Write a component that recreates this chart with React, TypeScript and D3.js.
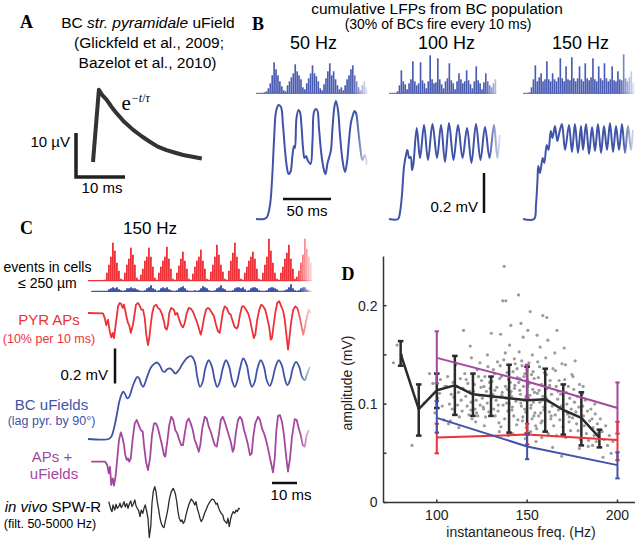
import React from "react";
import * as d3 from "d3";

const SANS = "'Liberation Sans', Arial, Helvetica, sans-serif";
const SERIF = "'Liberation Serif', 'Times New Roman', serif";

const BLUE = "#3f53a8";
const BLUE_H = "#4a5cb2";
const RED = "#ec3238";
const PURPLE = "#a5479f";
const BLACK = "#2b2b2b";
const GRAY = "#9b9b9b";

type P = [number, number];

// ---------- Panel A : single uField (t ms, µV)
const uFieldTrace: P[] = [[0, 0], [1.2, 16.4], [1.9, 15.2], [2.8, 14.1], [3.8, 12.5], [4.8, 11.1], [6.3, 9.2], [8.2, 7.3], [10, 5.8], [11.6, 4.6], [13.2, 3.5], [15, 2.7], [16.8, 2.1], [18.4, 1.6], [20.3, 1.2], [22.2, 0.8]];

// ---------- Panel B : cumulative LFPs (t ms, mV) and event histograms (2 ms bins)
const freqLabelsB = ["50 Hz", "100 Hz", "150 Hz"];
const histB50 = [0, 0, 0, 0, 1, 2, 5, 10, 18, 31, 24, 18, 12, 7, 3, 2, 8, 12, 16, 20, 29, 22, 18, 14, 6, 4, 10, 15, 20, 28, 20, 17, 12, 5, 3, 9, 15, 22, 30, 18, 22, 14, 8, 4, 6, 3, 8, 14, 18, 24, 28, 18, 12, 6, 3, 8, 12, 6];
const histB100 = [0, 0, 0, 0, 2, 8, 23, 12, 9, 4, 10, 14, 32, 12, 8, 10, 31, 13, 10, 5, 12, 38, 14, 10, 11, 35, 14, 9, 5, 12, 15, 30, 13, 10, 4, 12, 20, 14, 10, 12, 23, 13, 9, 5, 12, 27, 13, 10, 4, 11, 20, 12, 8, 6, 10, 14];
const histB150 = [0, 0, 0, 1, 6, 14, 28, 12, 16, 20, 12, 14, 32, 14, 12, 20, 14, 12, 16, 35, 15, 12, 27, 14, 13, 36, 15, 12, 15, 27, 14, 12, 30, 15, 13, 16, 35, 14, 12, 27, 15, 13, 30, 15, 12, 14, 27, 13, 12, 22, 14, 13, 39, 15, 12, 16, 22, 10];
const traceB50: P[] = [[0, 0], [8.3, 0], [11.5, 0.01], [14.6, 0.07], [16.7, 0.195], [18.8, 0.395], [20.8, 0.535], [23.4, 0.57], [26, 0.56], [28.1, 0.47], [30.2, 0.345], [32.3, 0.255], [33.9, 0.225], [35.9, 0.235], [38, 0.32], [39.6, 0.365], [40.6, 0.355], [42.2, 0.505], [44.3, 0.545], [45.8, 0.535], [47.4, 0.465], [49, 0.355], [50.5, 0.305], [52.1, 0.315], [54.2, 0.29], [56.8, 0.275], [58.9, 0.395], [60.4, 0.535], [62.5, 0.55], [64.1, 0.54], [65.6, 0.455], [68.2, 0.32], [70.8, 0.245], [72.4, 0.225], [74.5, 0.28], [76.6, 0.315], [78.1, 0.345], [79.7, 0.455], [81.8, 0.565], [83.3, 0.59], [85.4, 0.545], [87.5, 0.42], [90.1, 0.295], [92.7, 0.235], [94.8, 0.285], [96.9, 0.395], [99, 0.485], [101, 0.52], [102.6, 0.54], [104.2, 0.53], [106.3, 0.455], [108.3, 0.37], [110.9, 0.295], [113.5, 0.32], [115.6, 0.27]];
const traceB100: P[] = [[0, 0], [9.4, 0], [11.5, 0.035], [13.5, 0.12], [15.6, 0.26], [17.7, 0.32], [19.1, 0.345], [21.1, 0.305], [22.6, 0.31], [24, 0.245], [25.3, 0.27], [28.9, 0.455], [32.3, 0.305], [36.5, 0.47], [40.6, 0.295], [45.3, 0.475], [50, 0.305], [54.2, 0.47], [58.3, 0.285], [62.5, 0.48], [67.2, 0.295], [71.9, 0.47], [76.6, 0.305], [81.3, 0.455], [85.9, 0.28], [90.6, 0.475], [95.3, 0.295], [100, 0.46], [104.7, 0.305], [109.4, 0.47], [113, 0.305], [115.6, 0.42]];
const traceB150: P[] = [[0, 0], [11.5, 0], [13.5, 0.07], [15.1, 0.195], [15.9, 0.265], [17.7, 0.23], [20.5, 0.305], [22.2, 0.28], [24.7, 0.37], [26.6, 0.345], [28.9, 0.44], [30.7, 0.405], [33.3, 0.465], [35.7, 0.39], [38, 0.435], [40.6, 0.475], [43.8, 0.345], [47.9, 0.47], [51, 0.335], [54.1, 0.475], [57.3, 0.33], [60.4, 0.465], [62.5, 0.345], [65.6, 0.475], [68.8, 0.325], [71.9, 0.46], [75, 0.34], [78.1, 0.475], [81.3, 0.33], [84.4, 0.465], [87.5, 0.345], [90.6, 0.48], [93.8, 0.335], [96.9, 0.465], [100, 0.345], [103.1, 0.475], [106.3, 0.33], [109.4, 0.465], [112.5, 0.345], [114.6, 0.445]];

// ---------- Panel C : 150 Hz (t ms, mV); histograms in 0.8 ms bins
const histCRed = [1, 8, 16, 24, 38, 30, 18, 10, 2, 1, 8, 16, 22, 33, 26, 16, 3, 1, 6, 12, 20, 24, 33, 24, 14, 3, 1, 8, 14, 20, 24, 34, 22, 12, 2, 1, 8, 15, 22, 29, 20, 12, 2, 1, 7, 14, 20, 24, 31, 20, 12, 2, 1, 9, 16, 24, 36, 26, 16, 9, 2, 1, 10, 20, 28, 38, 24, 12, 2, 1, 8, 14, 20, 24, 29, 22, 12, 2, 1, 8, 16, 24, 42, 30, 18, 8, 2, 1, 8, 14, 22, 28, 36, 22, 12, 2, 4, 10, 18, 26, 42, 32, 24, 18];
const histCBlue = [0, 0, 2, 3, 4, 3, 4, 2, 1, 0, 1, 3, 3, 4, 3, 3, 2, 1, 0, 0, 1, 3, 4, 6, 3, 2, 0, 1, 3, 4, 3, 4, 2, 1, 0, 0, 1, 3, 4, 5, 3, 1, 0, 0, 0, 1, 0, 1, 3, 5, 4, 3, 1, 0, 0, 1, 3, 4, 6, 3, 2, 0, 0, 0, 1, 3, 4, 4, 3, 4, 2, 0, 1, 3, 4, 4, 3, 1, 0, 0, 0, 1, 3, 4, 4, 3, 2, 0, 0, 0, 1, 2, 4, 7, 3, 1, 0, 1, 3, 4, 4, 2, 1, 0];
const traceCPyr: P[] = [[0, 0], [6, -0.002], [6.7, -0.029], [7.3, -0.07], [8, -0.038], [8.7, -0.105], [9.3, -0.139], [9.9, -0.114], [10.4, -0.143], [10.9, -0.086], [11.5, -0.019], [12, 0.038], [12.7, 0.057], [13.3, 0.051], [13.9, 0.029], [14.4, 0.048], [14.9, 0.013], [15.5, -0.029], [16, -0.057], [16.5, -0.07], [17.1, -0.114], [17.6, -0.089], [18.1, -0.057], [18.7, 0], [19.2, 0.048], [20, 0.057], [20.8, 0.038], [21.3, 0.019], [22, 0.019], [22.7, -0.029], [23.3, -0.124], [24, -0.184], [24.5, -0.143], [25.1, -0.067], [25.7, 0], [26.4, 0.038], [27.3, 0.048], [28, 0.029], [28.8, 0.019], [29.6, -0.006], [30.4, -0.048], [30.9, -0.086], [31.5, -0.095], [32, -0.067], [32.5, 0], [33.3, 0.029], [34.4, 0.019], [34.9, -0.01], [35.7, 0], [36.5, -0.038], [37.3, -0.07], [38, -0.082], [38.7, -0.057], [39.5, 0], [40.3, 0.029], [41.1, 0.025], [41.9, 0.01], [42.7, -0.019], [43.5, -0.048], [44.3, -0.086], [45.1, -0.124], [45.6, -0.095], [46.4, -0.029], [47.2, 0.019], [48, 0.029], [48.8, 0.019], [49.6, 0], [50.4, -0.019], [51.2, -0.067], [52, -0.105], [52.7, -0.114], [53.3, -0.057], [54, 0.01], [54.7, 0.038], [55.5, 0.029], [56.3, 0], [57.1, -0.01], [57.9, -0.048], [58.7, -0.082], [59.5, -0.089], [60, -0.076], [60.8, -0.01], [61.6, 0.038], [62.4, 0.038], [63.2, 0.019], [64, 0], [64.8, -0.038], [65.6, -0.095], [66.3, -0.143], [66.9, -0.124], [67.7, -0.038], [68.5, 0.019], [69.3, 0.048], [70.1, 0.038], [70.9, 0.019], [71.7, -0.029], [72.5, -0.082], [73.1, -0.152], [73.6, -0.143], [74.1, -0.086], [74.9, 0], [75.7, 0.057], [76.5, 0.067], [77.3, 0.038], [78.1, 0.01], [78.7, -0.038], [79.5, -0.143], [80, -0.209], [80.5, -0.152], [81.3, -0.048], [82.1, 0.019], [82.9, 0.038], [83.7, 0.029], [84.5, -0.01], [85.3, -0.067], [86.1, -0.124], [86.7, -0.086], [87.5, -0.029], [88.3, 0.019], [89.1, 0]];
const traceCBC: P[] = [[0, 0], [8.3, 0], [9.3, 0.013], [10.4, 0.061], [11.5, 0.137], [12.5, 0.213], [13.3, 0.251], [14.1, 0.27], [14.9, 0.255], [15.7, 0.232], [16.5, 0.241], [17.6, 0.289], [18.7, 0.331], [19.7, 0.355], [20.5, 0.346], [21.3, 0.312], [22.1, 0.298], [22.9, 0.323], [24, 0.369], [25.3, 0.412], [26.7, 0.431], [27.7, 0.437], [28.8, 0.418], [29.9, 0.388], [30.7, 0.384], [31.7, 0.399], [32.8, 0.403], [33.9, 0.391], [34.9, 0.374], [36.3, 0.393], [37.9, 0.431], [39.7, 0.464], [41.3, 0.473], [42.7, 0.441], [43.7, 0.355], [44.8, 0.298], [45.9, 0.327], [46.9, 0.403], [48.3, 0.45], [49.6, 0.412], [50.7, 0.336], [51.7, 0.298], [52.8, 0.331], [53.9, 0.403], [55.2, 0.45], [56.5, 0.412], [57.6, 0.336], [58.7, 0.298], [59.7, 0.331], [60.8, 0.403], [62.1, 0.46], [63.5, 0.422], [64.5, 0.346], [65.6, 0.298], [66.7, 0.327], [67.7, 0.399], [69.1, 0.45], [70.4, 0.412], [71.5, 0.336], [72.7, 0.304], [73.7, 0.336], [74.9, 0.407], [76.3, 0.45], [77.6, 0.418], [78.7, 0.346], [79.7, 0.308], [80.8, 0.336], [81.9, 0.403], [83.2, 0.441], [84.5, 0.412], [85.6, 0.355], [86.7, 0.336], [87.7, 0.374], [88.8, 0.412]];
const traceCSum: P[] = [[1.3, 0], [6.9, 0], [7.7, -0.019], [8.3, -0.067], [8.8, -0.029], [9.3, -0.133], [9.9, -0.095], [10.4, -0.137], [11.1, -0.076], [11.7, 0.019], [12.4, 0.124], [13.1, 0.167], [13.7, 0.143], [14.4, 0.095], [14.9, 0.038], [15.5, 0.01], [16, 0.019], [16.5, 0], [17.1, 0.019], [17.9, 0.133], [18.7, 0.219], [19.5, 0.238], [20.3, 0.209], [21.1, 0.181], [21.9, 0.171], [22.4, 0.095], [23.2, 0], [24, -0.048], [24.8, 0.019], [25.6, 0.152], [26.4, 0.219], [27.2, 0.219], [28, 0.19], [28.8, 0.143], [29.6, 0.095], [30.4, 0.038], [30.9, 0.029], [31.7, 0.114], [32.5, 0.209], [33.3, 0.257], [34.1, 0.238], [34.9, 0.181], [35.7, 0.162], [36.5, 0.124], [37.3, 0.095], [38, 0.095], [38.7, 0.162], [39.5, 0.228], [40.3, 0.247], [41.1, 0.219], [41.9, 0.181], [42.7, 0.124], [43.5, 0.095], [44.3, 0.057], [44.9, 0.095], [45.7, 0.19], [46.7, 0.257], [47.5, 0.247], [48.3, 0.2], [49.1, 0.171], [49.9, 0.133], [50.7, 0.095], [51.5, 0.086], [52.3, 0.152], [53.1, 0.238], [53.9, 0.257], [54.7, 0.228], [55.5, 0.19], [56.3, 0.152], [57.1, 0.114], [57.9, 0.057], [58.4, 0.076], [59.2, 0.171], [60, 0.238], [60.8, 0.257], [61.6, 0.238], [62.4, 0.181], [63.2, 0.143], [64, 0.095], [64.8, 0.038], [65.5, 0.048], [66.1, 0.143], [66.9, 0.219], [68, 0.257], [68.8, 0.238], [69.6, 0.19], [70.4, 0.162], [71.2, 0.124], [72, 0.076], [73.1, 0], [74, -0.061], [74.7, 0.019], [75.3, 0.171], [76, 0.262], [76.8, 0.266], [77.6, 0.228], [78.4, 0.152], [79.2, 0.038], [80, -0.057], [80.8, 0.019], [81.6, 0.143], [82.7, 0.243], [83.5, 0.238], [84.3, 0.19], [85.1, 0.152], [85.9, 0.095], [86.7, 0.086], [87.5, 0.152], [88.3, 0.181]];
const traceCVivo: P[] = [[8.3, 0.038], [9.1, -0.004], [9.6, -0.019], [10, 0.019], [10.7, -0.01], [11.2, 0.023], [11.7, 0], [12.3, 0.01], [12.8, 0.029], [13.3, 0.004], [13.9, 0.019], [14.4, 0.038], [14.9, 0.008], [15.5, 0.027], [16, 0], [16.5, 0.023], [17.1, 0.042], [17.6, 0.01], [18.1, 0.023], [18.7, 0.048], [19.2, 0.015], [19.7, 0], [20.3, -0.015], [20.8, -0.048], [21.3, -0.01], [21.9, -0.029], [22.4, 0], [22.9, 0.019], [23.5, -0.019], [24, -0.057], [24.5, -0.167], [25.1, -0.105], [25.6, 0.029], [26.1, 0.095], [26.7, 0.124], [27.2, 0.095], [27.7, 0.038], [28.3, -0.01], [28.8, -0.057], [29.3, -0.086], [29.9, -0.105], [30.4, -0.11], [30.9, -0.076], [31.5, -0.038], [32, 0], [32.5, 0.048], [33.3, 0.095], [34.1, 0.114], [34.9, 0.086], [35.5, 0.038], [36, -0.019], [36.5, -0.057], [37.1, -0.076], [37.6, -0.067], [38.1, -0.086], [38.7, -0.072], [39.2, -0.038], [39.7, -0.01], [40.3, 0.019], [40.8, 0.038], [41.3, 0.053], [42.1, 0.038], [42.7, 0.019], [43.2, 0.038], [43.7, 0], [44.3, -0.029], [44.8, -0.057], [45.3, -0.076], [45.9, -0.061], [46.4, -0.038], [46.9, -0.019], [47.5, 0], [48, 0.019], [48.8, 0.038], [49.6, 0.053], [50.4, 0.048], [51.2, 0.023], [51.7, 0.029], [52.3, 0], [52.8, -0.015], [53.3, -0.029], [53.9, -0.038], [54.4, -0.067], [54.9, -0.076], [55.5, -0.086], [56, -0.057], [56.5, -0.105], [57.1, -0.057], [57.6, -0.034], [58.1, -0.019], [58.7, -0.029], [59.2, -0.01], [59.7, -0.019], [60.3, 0], [60.8, -0.004]];

// ---------- Panel D : amplitude vs instantaneous frequency
const scatterPoints: P[] = [
  [76, 0.142], [78, 0.16], [80.5, 0.15], [86.3, 0.058], [93, 0.101], [96, 0.131], [97.8, 0.121], [99, 0.091],
  [101.5, 0.111], [102, 0.125], [103, 0.098], [104, 0.084], [100.5, 0.106], [104.5, 0.118],
  [106, 0.128], [107, 0.1], [107.5, 0.083], [108, 0.11], [108.5, 0.095], [109, 0.122], [106.5, 0.08], [109.5, 0.107], [105.5, 0.118],
  [110.5, 0.14], [111, 0.118], [111.5, 0.099], [112, 0.112], [112.5, 0.087], [113, 0.126], [113.5, 0.104], [114, 0.093], [114.5, 0.116], [112.2, 0.076], [114.8, 0.175],
  [115.5, 0.131], [116, 0.108], [118.5, 0.159], [116.8, 0.098], [117.2, 0.121], [117.8, 0.089], [118.2, 0.113], [119, 0.102], [119.5, 0.085], [116.3, 0.125], [119.2, 0.147], [118.8, 0.094],
  [120.3, 0.113], [120.8, 0.12], [121.2, 0.095], [121.8, 0.104], [122.3, 0.135], [122.7, 0.088], [123.1, 0.128], [123.6, 0.109], [124, 0.099], [124.5, 0.117], [121.5, 0.082], [123.9, 0.142], [122, 0.091], [124.8, 0.124],
  [125.2, 0.106], [125.7, 0.097], [126.1, 0.118], [126.6, 0.128], [127, 0.087], [127.5, 0.113], [127.9, 0.101], [128.3, 0.138], [128.8, 0.092], [129.2, 0.122], [126.3, 0.078], [129.7, 0.109], [128, 0.15], [125.9, 0.095], [129.5, 0.116],
  [130.2, 0.172], [130.6, 0.123], [131, 0.11], [131.5, 0.095], [131.9, 0.131], [132.3, 0.088], [132.8, 0.104], [133.2, 0.117], [133.6, 0.143], [134, 0.099], [134.4, 0.081], [134.8, 0.126], [130.9, 0.107], [132.1, 0.114], [133.9, 0.093], [131.3, 0.135], [134.6, 0.072],
  [137.3, 0.24], [136.5, 0.205], [138.2, 0.205], [135.3, 0.171], [135.8, 0.128], [136.2, 0.112], [136.7, 0.099], [137.1, 0.145], [137.6, 0.085], [138, 0.118], [138.4, 0.106], [138.9, 0.132], [139.3, 0.093], [139.7, 0.125], [135.5, 0.077], [136, 0.109], [137.9, 0.152], [138.6, 0.101], [139.1, 0.115], [139.5, 0.068], [135.1, 0.139],
  [141, 0.18], [140.3, 0.16], [140.7, 0.122], [141.3, 0.108], [141.8, 0.097], [142.2, 0.133], [142.6, 0.088], [143, 0.116], [143.4, 0.141], [143.8, 0.103], [144.2, 0.079], [144.6, 0.127], [140.5, 0.111], [141.6, 0.094], [142.9, 0.146], [143.2, 0.119], [144.9, 0.084], [140.1, 0.1], [142, 0.07], [144.4, 0.136], [141.1, 0.113],
  [145.2, 0.211], [146.6, 0.182], [147.8, 0.168], [145.6, 0.153], [146, 0.126], [146.3, 0.11], [146.8, 0.098], [147.2, 0.139], [147.6, 0.087], [148, 0.118], [148.4, 0.104], [148.8, 0.131], [149.2, 0.092], [149.6, 0.076], [145.4, 0.122], [145.9, 0.114], [146.5, 0.101], [147, 0.144], [147.4, 0.083], [148.2, 0.128], [148.6, 0.095], [149, 0.065], [149.4, 0.108], [149.8, 0.135],
  [151.7, 0.194], [150.4, 0.175], [152.9, 0.15], [150.8, 0.138], [151.2, 0.121], [151.5, 0.109], [152, 0.096], [152.4, 0.13], [152.7, 0.085], [153.1, 0.115], [153.5, 0.102], [153.9, 0.126], [154.3, 0.091], [154.7, 0.078], [150.2, 0.118], [150.6, 0.106], [151, 0.142], [151.9, 0.072], [152.2, 0.099], [153.3, 0.133], [153.7, 0.088], [154.1, 0.112], [154.9, 0.062], [150.1, 0.124],
  [155.5, 0.17], [157.2, 0.158], [155.9, 0.143], [156.2, 0.127], [156.6, 0.114], [157, 0.102], [157.5, 0.091], [157.9, 0.12], [158.3, 0.083], [158.7, 0.108], [159.1, 0.097], [159.5, 0.132], [155.3, 0.075], [155.7, 0.111], [156.4, 0.088], [156.9, 0.138], [158.1, 0.066], [158.5, 0.104], [159.3, 0.094], [159.8, 0.119], [157.7, 0.081],
  [158.7, 0.19], [160.9, 0.188], [161.5, 0.165], [160.3, 0.147], [160.7, 0.13], [161.1, 0.116], [161.9, 0.103], [162.3, 0.092], [162.7, 0.124], [163.1, 0.085], [163.5, 0.11], [163.9, 0.098], [164.3, 0.136], [164.7, 0.078], [160.5, 0.106], [161.7, 0.07], [162.5, 0.119], [163.3, 0.088], [164.1, 0.056],
  [166.5, 0.175], [165.3, 0.152], [165.7, 0.134], [166.1, 0.118], [166.9, 0.105], [167.3, 0.094], [167.7, 0.124], [168.1, 0.084], [168.5, 0.11], [168.9, 0.098], [169.3, 0.141], [169.7, 0.077], [165.5, 0.089], [166.3, 0.068], [167.1, 0.113], [169.1, 0.047],
  [170.5, 0.157], [171.2, 0.14], [170.8, 0.125], [171.6, 0.112], [172, 0.1], [172.4, 0.09], [172.8, 0.118], [173.2, 0.082], [173.6, 0.106], [174, 0.073], [174.4, 0.095], [174.8, 0.13], [171.4, 0.066], [173.4, 0.087],
  [176.6, 0.144], [175.4, 0.128], [175.8, 0.115], [176.2, 0.102], [177, 0.092], [177.4, 0.08], [177.8, 0.108], [178.2, 0.073], [178.6, 0.097], [179, 0.12], [179.4, 0.064], [175.2, 0.086], [178.9, 0.055],
  [180.4, 0.11], [180.8, 0.098], [181.2, 0.088], [181.6, 0.078], [182.2, 0.104], [182.8, 0.07], [183.4, 0.093], [184, 0.063], [184.6, 0.083], [181, 0.118], [183.8, 0.057],
  [185.3, 0.095], [185.9, 0.085], [186.5, 0.076], [187.1, 0.068], [187.7, 0.09], [188.3, 0.062], [188.9, 0.08], [189.5, 0.071], [186.2, 0.058], [187.4, 0.1],
  [190.5, 0.085], [191.5, 0.072], [192.5, 0.064], [193.5, 0.078], [194.5, 0.058], [195.5, 0.068], [196.5, 0.05], [197.5, 0.062], [192, 0.046],
];
const freqInVivo = [80, 90, 100, 110, 120, 130, 140, 150, 160, 170, 180, 190];
const ampInVivo = [0.151, 0.095, 0.114, 0.119, 0.11, 0.108, 0.106, 0.104, 0.105, 0.094, 0.086, 0.066];
const loInVivo = [0.139, 0.068, 0.096, 0.089, 0.088, 0.088, 0.071, 0.07, 0.072, 0.069, 0.058, 0.056];
const hiInVivo = [0.164, 0.12, 0.131, 0.149, 0.131, 0.128, 0.14, 0.138, 0.136, 0.12, 0.112, 0.074];
const freqModel = [100, 150, 200];
const ampSum = [0.147, 0.123, 0.096];
const loSum = [0.121, 0.106, 0.07];
const hiSum = [0.174, 0.14, 0.122];
const ampPyr = [0.066, 0.069, 0.0635];
const loPyr = [0.05, 0.059, 0.043];
const hiPyr = [0.08, 0.08, 0.082];
const ampBC = [0.086, 0.057, 0.038];
const loBC = [0.071, 0.044, 0.0245];
const hiBC = [0.103, 0.069, 0.051];
const yTicksD = [0, 0.05, 0.1, 0.15, 0.2];
const yTickLabelsD = ["0", "", "0.1", "", "0.2"];
const xTicksD = [100, 150, 200];

function Fade({ id, x1, x2, color }: { id: string; x1: number; x2: number; color: string }) {
  return (
    <linearGradient id={id} gradientUnits="userSpaceOnUse" x1={x1} x2={x2} y1={0} y2={0}>
      <stop offset="0" stopColor={color} stopOpacity={1} />
      <stop offset="1" stopColor={color} stopOpacity={0.15} />
    </linearGradient>
  );
}

export default function App() {
  // ---- A
  const xA = d3.scaleLinear().domain([0, 10]).range([93, 142]);
  const yA = d3.scaleLinear().domain([0, 10]).range([162, 118]);
  const lineA = d3.line<P>().x((d) => xA(d[0])).y((d) => yA(d[1]));

  // ---- B
  const bStarts = [256, 389, 523];
  const bHists = [histB50, histB100, histB150];
  const bTraces = [traceB50, traceB100, traceB150];
  const yB = d3.scaleLinear().domain([0, 0.2]).range([219, 179]);
  const yHB = d3.scaleLinear().domain([0, 40]).range([93.3, 53.3]);

  // ---- C
  const xC = d3.scaleLinear().domain([0, 10]).range([88, 113]);
  const yCPyr = d3.scaleLinear().domain([0, 0.2]).range([313, 278]);
  const yCBC = d3.scaleLinear().domain([0, 0.2]).range([439, 404]);
  const yCSum = d3.scaleLinear().domain([0, 0.2]).range([461.7, 426.7]);
  const yCViv = d3.scaleLinear().domain([0, 0.2]).range([508.3, 473.3]);
  const yHCr = d3.scaleLinear().domain([0, 40]).range([280.7, 240.7]);
  const yHCb = d3.scaleLinear().domain([0, 10]).range([291.3, 281.3]);
  const binC = 0.8;
  const binC0 = 6.4;
  const mkLine = (ys: d3.ScaleLinear<number, number>, curve: d3.CurveFactory = d3.curveLinear) =>
    d3.line<P>().x((d) => xC(d[0])).y((d) => ys(d[1])).curve(curve);

  // ---- D
  const xD = d3.scaleLinear().domain([70.5, 209.7]).range([383.5, 635]);
  const yD = d3.scaleLinear().domain([0, 0.25]).range([502.5, 256.5]);
  const lineD = (fs: number[], as: number[]) =>
    d3.line<number>().x((_, i) => xD(fs[i])).y((d) => yD(d))(as) || "";

  const errBars = (fs: number[], lo: number[], hi: number[], color: string, w: number, cap: number, key: string) =>
    fs.map((f, i) => (
      <g key={key + i} stroke={color} strokeWidth={w}>
        <line x1={xD(f)} x2={xD(f)} y1={yD(lo[i])} y2={yD(hi[i])} />
        <line x1={xD(f) - cap} x2={xD(f) + cap} y1={yD(lo[i])} y2={yD(lo[i])} />
        <line x1={xD(f) - cap} x2={xD(f) + cap} y1={yD(hi[i])} y2={yD(hi[i])} />
      </g>
    ));

  const cEnd = xC(89.6);

  return (
    <svg width={640} height={544} style={{ position: "absolute", left: 0, top: 0, background: "#fff" }} fontFamily={SANS}>
      <defs>
        {bStarts.map((x0, k) => {
          const xB = d3.scaleLinear().domain([0, 100]).range([x0, x0 + 96]);
          return (
            <g key={"gb" + k}>
              <Fade id={"fbh" + k} x1={xB(100)} x2={xB(116)} color={BLUE_H} />
              <Fade id={"fbt" + k} x1={xB(104)} x2={xB(116)} color={BLUE} />
            </g>
          );
        })}
        <Fade id="fcr" x1={cEnd - 16} x2={cEnd} color={RED} />
        <Fade id="fcb" x1={cEnd - 12} x2={cEnd} color={BLUE} />
        <Fade id="fcp" x1={cEnd - 12} x2={cEnd} color={PURPLE} />
      </defs>

      {/* ---------------- A ---------------- */}
      <text x={20} y={28} fontFamily={SERIF} fontWeight="bold" fontSize={18}>A</text>
      <text x={148} y={28} fontSize={15.5} textAnchor="middle">
        BC <tspan fontStyle="italic">str. pyramidale</tspan> uField
      </text>
      <text x={149} y={48} fontSize={15.5} textAnchor="middle">(Glickfeld et al., 2009;</text>
      <text x={147.5} y={68} fontSize={15.5} textAnchor="middle">Bazelot et al., 2010)</text>
      <path d={lineA(uFieldTrace) || ""} fill="none" stroke="#333" strokeWidth={4} strokeLinejoin="round" />
      <text x={121.5} y={110} fontFamily={SERIF} fontSize={21}>e</text>
      <text x={132} y={102} fontFamily={SERIF} fontSize={12}>−<tspan fontStyle="italic">t</tspan>/<tspan fontStyle="italic">τ</tspan></text>
      <path
        d={`M${76},${177 - (yA(0) - yA(10))}V${177}H${76 + xA(10) - xA(0)}`}
        fill="none" stroke="#222" strokeWidth={3.5} strokeLinecap="butt"
      />
      <text x={70} y={147} fontSize={15} textAnchor="end">10 µV</text>
      <text x={102} y={193} fontSize={15} textAnchor="middle">10 ms</text>

      {/* ---------------- B ---------------- */}
      <text x={252} y={30} fontFamily={SERIF} fontWeight="bold" fontSize={18}>B</text>
      <text x={437} y={13.5} fontSize={15.5} textAnchor="middle">cumulative LFPs from BC population</text>
      <text x={438} y={29} fontSize={14} textAnchor="middle">(30% of BCs fire every 10 ms)</text>
      {bStarts.map((x0, k) => {
        const xB = d3.scaleLinear().domain([0, 100]).range([x0, x0 + 96]);
        const lineB = d3.line<P>().x((d) => xB(d[0])).y((d) => yB(d[1])).curve(d3.curveCatmullRom.alpha(0.5));
        const hist = bHists[k];
        const bw = xB(2) - xB(0);
        return (
          <g key={"b" + k}>
            <text x={xB(60)} y={49} fontSize={18} textAnchor="middle">{freqLabelsB[k]}</text>
            <line x1={xB(0)} x2={xB(hist.length * 2)} y1={yHB(0)} y2={yHB(0)} stroke={`url(#fbh${k})`} strokeWidth={1} />
            {hist.map((c, i) => (
              <rect key={i} x={xB(i * 2)} width={bw - 0.25} y={yHB(c)} height={yHB(0) - yHB(c)} fill={`url(#fbh${k})`} />
            ))}
            <path d={lineB(bTraces[k]) || ""} fill="none" stroke={`url(#fbt${k})`} strokeWidth={2} strokeLinejoin="round" />
          </g>
        );
      })}
      {(() => {
        const xB = d3.scaleLinear().domain([0, 100]).range([bStarts[0], bStarts[0] + 96]);
        const len = xB(50) - xB(0);
        return (
          <g>
            <line x1={283} x2={283 + len} y1={199} y2={199} stroke="#111" strokeWidth={2.5} />
            <text x={283 + len / 2} y={216} fontSize={15} textAnchor="middle">50 ms</text>
            <line x1={484} x2={484} y1={213} y2={213 - (yB(0) - yB(0.2))} stroke="#111" strokeWidth={2.5} />
            <text x={478} y={212} fontSize={15} textAnchor="end">0.2 mV</text>
          </g>
        );
      })()}

      {/* ---------------- C ---------------- */}
      <text x={20} y={234} fontFamily={SERIF} fontWeight="bold" fontSize={18}>C</text>
      <text x={150} y={234} fontSize={17} textAnchor="middle">150 Hz</text>
      <text x={47.5} y={272} fontSize={14} textAnchor="middle">events in cells</text>
      <text x={47.5} y={288} fontSize={14} textAnchor="middle">≤ 250 µm</text>
      <line x1={xC(0)} x2={cEnd} y1={yHCr(0)} y2={yHCr(0)} stroke="url(#fcr)" strokeWidth={1.2} />
      {histCRed.map((c, i) => (
        <rect key={"cr" + i} x={xC(binC0 + i * binC)} width={xC(binC) - xC(0) - 0.2} y={yHCr(c)} height={yHCr(0) - yHCr(c)} fill="url(#fcr)" />
      ))}
      <line x1={xC(1.3)} x2={cEnd} y1={yHCb(0)} y2={yHCb(0)} stroke="url(#fcb)" strokeWidth={1.2} />
      {histCBlue.map((c, i) => (
        <rect key={"cb" + i} x={xC(binC0 + i * binC)} width={xC(binC) - xC(0)} y={yHCb(c)} height={yHCb(0) - yHCb(c)} fill="url(#fcb)" />
      ))}

      <text x={49} y={325} fontSize={15} textAnchor="middle" fill={RED}>PYR APs</text>
      <text x={49} y={342.5} fontSize={12.5} textAnchor="middle" fill={RED}>(10% per 10 ms)</text>
      <path d={mkLine(yCPyr)(traceCPyr) || ""} fill="none" stroke="url(#fcr)" strokeWidth={1.8} strokeLinejoin="round" />

      <line x1={115} x2={115} y1={383.5} y2={383.5 - (yCBC(0) - yCBC(0.2))} stroke="#111" strokeWidth={2.5} />
      <text x={108} y={380} fontSize={15} textAnchor="end">0.2 mV</text>

      <text x={51.5} y={410} fontSize={15} textAnchor="middle" fill={BLUE}>BC uFields</text>
      <text x={51.5} y={425} fontSize={12.5} textAnchor="middle" fill={BLUE}>(lag pyr. by 90°)</text>
      <path d={mkLine(yCBC, d3.curveCatmullRom.alpha(0.5))(traceCBC) || ""} fill="none" stroke="url(#fcb)" strokeWidth={1.8} />

      <text x={52} y={461.5} fontSize={15} textAnchor="middle" fill={PURPLE}>APs +</text>
      <text x={54} y={478.5} fontSize={15} textAnchor="middle" fill={PURPLE}>uFields</text>
      <path d={mkLine(yCSum)(traceCSum) || ""} fill="none" stroke="url(#fcp)" strokeWidth={1.8} strokeLinejoin="round" />

      <line x1={272} x2={272 + xC(10) - xC(0)} y1={483} y2={483} stroke="#111" strokeWidth={2.5} />
      <text x={291} y={500} fontSize={15} textAnchor="middle">10 ms</text>

      <text x={53} y={512} fontSize={15} textAnchor="middle">
        <tspan fontStyle="italic">in vivo</tspan> SPW-R
      </text>
      <text x={50} y={527.5} fontSize={12.5} textAnchor="middle">(filt. 50-5000 Hz)</text>
      <path d={mkLine(yCViv)(traceCVivo) || ""} fill="none" stroke={BLACK} strokeWidth={1.3} strokeLinejoin="round" />

      {/* ---------------- D ---------------- */}
      <text x={341.5} y={280} fontFamily={SERIF} fontWeight="bold" fontSize={18}>D</text>
      {scatterPoints.map((p, i) => (
        <circle key={"s" + i} cx={xD(p[0])} cy={yD(p[1])} r={1.6} fill={GRAY} />
      ))}
      <path d={lineD(freqInVivo, ampInVivo)} fill="none" stroke={BLACK} strokeWidth={2.5} strokeLinejoin="round" />
      {errBars(freqInVivo, loInVivo, hiInVivo, BLACK, 2.5, 2.8, "k")}
      <path d={lineD(freqModel, ampSum)} fill="none" stroke={PURPLE} strokeWidth={2} />
      {errBars(freqModel, loSum, hiSum, PURPLE, 2, 2.2, "p")}
      <path d={lineD(freqModel, ampPyr)} fill="none" stroke={RED} strokeWidth={2} />
      {errBars(freqModel, loPyr, hiPyr, RED, 2, 2.2, "r")}
      <path d={lineD(freqModel, ampBC)} fill="none" stroke={BLUE} strokeWidth={2} />
      {errBars(freqModel, loBC, hiBC, BLUE, 2, 2.2, "b")}

      <g stroke="#333" strokeWidth={1.5} fill="none">
        <line x1={xD.range()[0]} x2={xD.range()[0]} y1={yD(0)} y2={yD(0.25)} />
        <line x1={xD.range()[0]} x2={xD.range()[1]} y1={yD(0)} y2={yD(0)} />
        {yTicksD.map((t) => (
          <line key={"yt" + t} x1={xD.range()[0]} x2={xD.range()[0] + 3} y1={yD(t)} y2={yD(t)} />
        ))}
        {xTicksD.map((t) => (
          <line key={"xt" + t} x1={xD(t)} x2={xD(t)} y1={yD(0)} y2={yD(0) - 3} />
        ))}
      </g>
      {yTicksD.map((t, i) => (
        <text key={"yl" + t} x={xD.range()[0] - 6} y={yD(t)} dy="0.35em" fontSize={14} textAnchor="end" fill="#222">
          {yTickLabelsD[i]}
        </text>
      ))}
      {xTicksD.map((t) => (
        <text key={"xl" + t} x={xD(t)} y={520} fontSize={14} textAnchor="middle" fill="#222">{t}</text>
      ))}
      <text x={521} y={536.5} fontSize={14} textAnchor="middle" fill="#222">instantaneous freq. (Hz)</text>
      <text transform="translate(351.5,383) rotate(-90)" fontSize={14} textAnchor="middle" fill="#222">amplitude (mV)</text>
    </svg>
  );
}
